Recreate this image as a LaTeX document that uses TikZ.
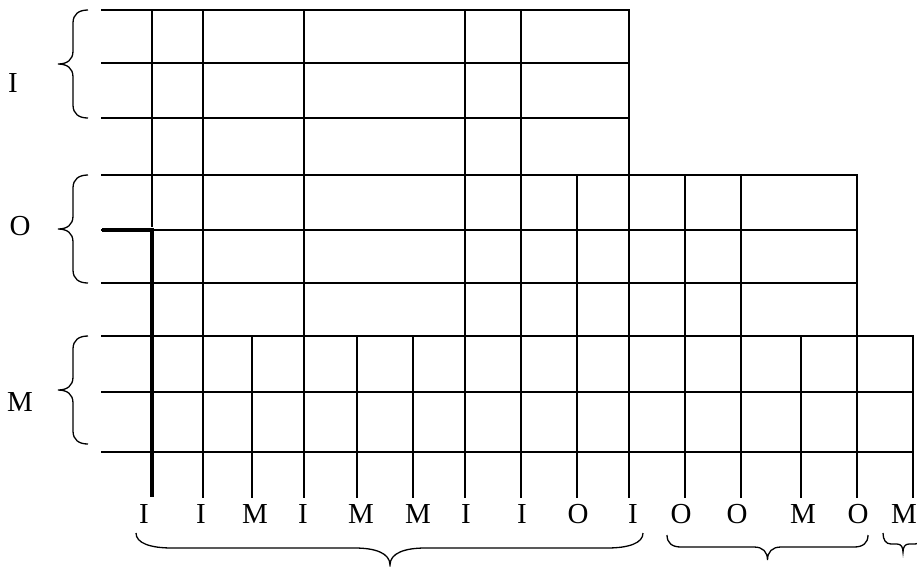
\documentclass[tikz,border=0pt]{standalone}
\usepackage{fontspec}
\setmainfont{Liberation Serif}
\begin{document}
\begin{tikzpicture}[x=1pt,y=-1pt,
  gridline/.style={line width=1.7pt, line cap=rect},
  thickline/.style={line width=3.6pt},
  bracel/.style={line width=1.3pt},
  lab/.style={anchor=base, inner sep=0pt, font=\fontsize{29}{29}\selectfont}]
\useasboundingbox (0,0) rectangle (917,566);
% horizontal lines
\foreach \y in {10,63,118} \draw[gridline] (102,\y) -- (629,\y);
\foreach \y in {175,230,283} \draw[gridline] (102,\y) -- (857,\y);
\foreach \y in {336,392,452} \draw[gridline] (102,\y) -- (913,\y);
% vertical lines: I columns
\foreach \x in {203,304,465,521,629} \draw[gridline] (\x,10) -- (\x,497);
\draw[gridline] (152,10) -- (152,226);
% O columns
\foreach \x in {577,685,741,857} \draw[gridline] (\x,175) -- (\x,497);
% M columns
\foreach \x in {252,357,413,801,913} \draw[gridline] (\x,336) -- (\x,497);
% thick path
\draw[thickline] (102,230) -- (152,230) -- (152,497);
% left braces
\foreach \t/\b in {10/118,175/283,336/444}{
  \pgfmathsetmacro{\m}{(\t+\b)/2}
  \draw[bracel] (88,\t) .. controls (79,\t) and (73,\t+4) .. (73,\t+13)
     -- (73,\m-13) .. controls (73,\m-4) and (67,\m) .. (58,\m)
     .. controls (67,\m) and (73,\m+4) .. (73,\m+13)
     -- (73,\b-13) .. controls (73,\b-4) and (79,\b) .. (88,\b);
}
% left labels
\node[lab] (lI) at (13,92) {I};
\node[lab] (lO) at (20,235) {O};
\node[lab] (lM) at (20,411) {M};
% bottom labels
\node[lab] (b1) at (144,523) {I};
\node[lab] (b2) at (201,523) {I};
\node[lab] (b3) at (255,523) {M};
\node[lab] (b4) at (303,523) {I};
\node[lab] (b5) at (361,523) {M};
\node[lab] (b6) at (418,523) {M};
\node[lab] (b7) at (466,523) {I};
\node[lab] (b8) at (522,523) {I};
\node[lab] (b9) at (578,523) {O};
\node[lab] (b10) at (633,523) {I};
\node[lab] (b11) at (681,523) {O};
\node[lab] (b12) at (737,523) {O};
\node[lab] (b13) at (803,523) {M};
\node[lab] (b14) at (858,523) {O};
\node[lab] (b15) at (904,523) {M};
% bottom braces
\draw[bracel] (136,533) .. controls (136,543) and (150,548) .. (172,548) -- (355,548)
  .. controls (375,548) and (390,553) .. (390,565)
  .. controls (390,553) and (405,548) .. (425,548) -- (607,548)
  .. controls (629,548) and (643,543) .. (643,533);
\draw[bracel] (667,535) .. controls (667,543) and (672,547) .. (681,547) -- (754,547)
  .. controls (763,547) and (767.5,552) .. (767.5,560)
  .. controls (767.5,552) and (772,547) .. (781,547) -- (854,547)
  .. controls (863,547) and (868,543) .. (868,535);
\draw[bracel] (883,533) .. controls (883,540) and (886,544) .. (891,544) -- (897,544)
  .. controls (901,544) and (903,547) .. (903,552)
  .. controls (903,547) and (905,544) .. (909,544) -- (915,544)
  .. controls (920,544) and (923,540) .. (923,533);
\end{tikzpicture}
\end{document}
